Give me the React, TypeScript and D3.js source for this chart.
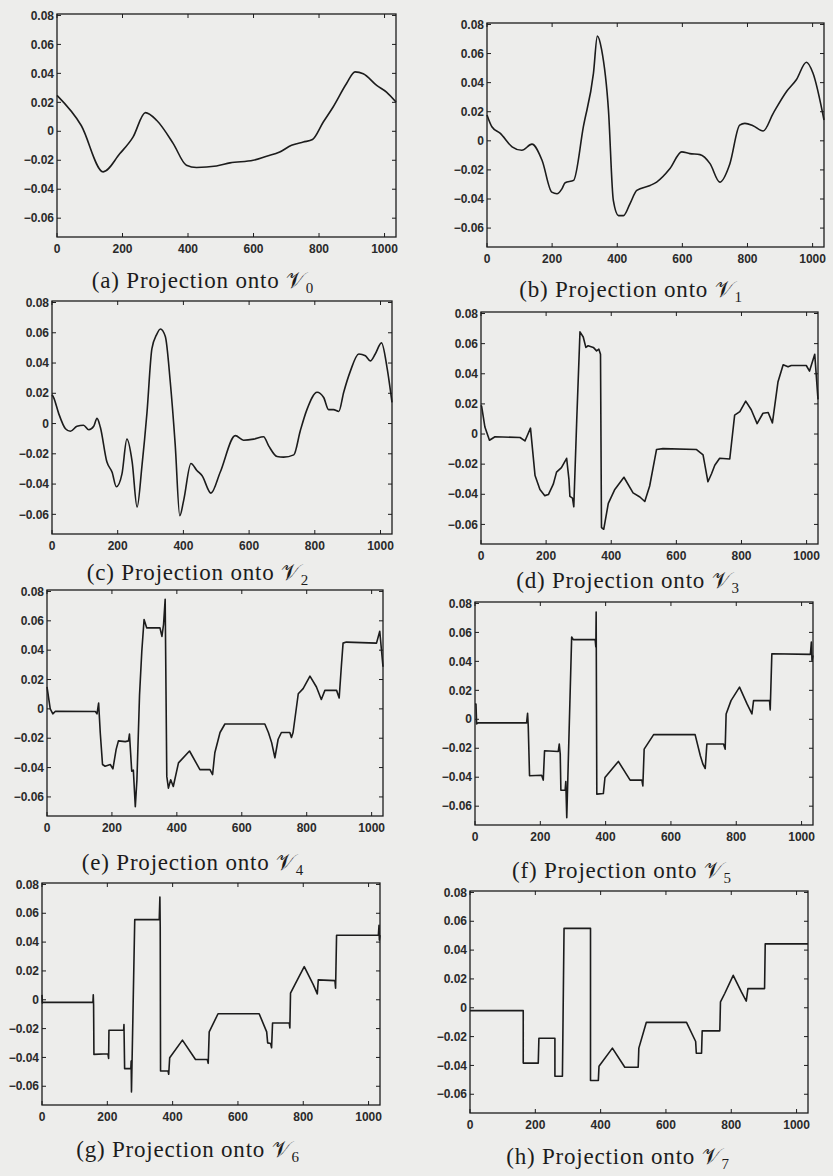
import React from 'react';
import * as d3 from 'd3';

type Pt = [number, number];

// axis ticks shared by every panel
const xTicks = [0, 200, 400, 600, 800, 1000];
const yTicks = [-0.06, -0.04, -0.02, 0, 0.02, 0.04, 0.06, 0.08];
const xDomain: [number, number] = [0, 1035];
const yDomain: [number, number] = [-0.073, 0.081];

// projections of the skyline signal onto V0 ... V7 (sample index, value)
const projV0: Pt[] = [
  [0, 0.0248], [74, 0.004], [141, -0.028], [192, -0.0154], [232, -0.004], [270, 0.0129],
  [304, 0.0076], [355, -0.0085], [395, -0.0234], [426, -0.025], [487, -0.024], [528, -0.0218],
  [599, -0.02], [640, -0.0172], [680, -0.0143], [716, -0.0097], [752, -0.0074], [780, -0.0057],
  [813, 0.0064], [843, 0.0168], [884, 0.033], [910, 0.041], [935, 0.0398], [976, 0.0317],
  [1006, 0.0271], [1035, 0.0202],
];

const projV1: Pt[] = [
  [0, 0.0178], [15, 0.0097], [41, 0.0051], [77, -0.0041], [107, -0.0065], [138, -0.0023],
  [169, -0.0134], [199, -0.0353], [215, -0.0364], [230, -0.033], [240, -0.0288], [266, -0.0272],
  [296, 0.0097], [327, 0.0466], [339, 0.072], [352, 0.0627], [373, 0.0212], [388, -0.041],
  [404, -0.0514], [419, -0.0514], [439, -0.0433], [460, -0.0341], [501, -0.0307], [521, -0.0284],
  [562, -0.0191], [598, -0.0076], [623, -0.0088], [654, -0.0095], [685, -0.0157], [715, -0.0284],
  [746, -0.0157], [776, 0.0108], [792, 0.012], [817, 0.0104], [848, 0.0067], [879, 0.0189],
  [920, 0.0339], [950, 0.042], [981, 0.054], [1001, 0.0466], [1035, 0.0143],
];

const projV2: Pt[] = [
  [0, 0.019], [5, 0.0172], [20, 0.0069], [41, -0.0034], [56, -0.0051], [76, -0.0018],
  [96, -0.0011], [112, -0.0041], [127, -0.0018], [137, 0.0034], [147, -0.0023], [167, -0.0253],
  [183, -0.0322], [196, -0.0418], [213, -0.0333], [228, -0.0103], [244, -0.0253], [259, -0.0552],
  [274, -0.0276], [289, 0.0069], [304, 0.0494], [318, 0.0586], [330, 0.0625], [345, 0.0575],
  [360, 0.0276], [375, -0.0138], [389, -0.0609], [401, -0.0506], [423, -0.0264], [441, -0.031],
  [457, -0.0345], [484, -0.046], [512, -0.0322], [558, -0.008], [583, -0.011], [614, -0.0103],
  [644, -0.0087], [660, -0.0149], [685, -0.0218], [705, -0.0222], [736, -0.0207], [756, -0.0046],
  [776, 0.0092], [807, 0.0207], [827, 0.0172], [842, 0.0092], [857, 0.0092], [873, 0.008],
  [888, 0.0207], [908, 0.0345], [934, 0.046], [954, 0.0448], [969, 0.0414], [984, 0.046],
  [1003, 0.0533], [1020, 0.0368], [1035, 0.014],
];

const projV3: Pt[] = [
  [0, 0.019], [2, 0.0184], [12, 0.0046], [26, -0.0041], [43, -0.0018], [120, -0.0023],
  [135, -0.0046], [152, 0.0039], [166, -0.0276], [181, -0.0368], [196, -0.0409], [207, -0.0402],
  [222, -0.0333], [232, -0.0253], [247, -0.0223], [263, -0.0161], [270, -0.0299], [273, -0.0414],
  [281, -0.0425], [285, -0.0483], [294, 0.0092], [304, 0.0678], [314, 0.0644], [322, 0.0575],
  [329, 0.0586], [345, 0.0575], [355, 0.0552], [362, 0.0563], [367, 0.0529], [370, -0.0621],
  [377, -0.0632], [391, -0.046], [411, -0.0368], [439, -0.0287], [467, -0.0391], [488, -0.0418],
  [503, -0.0448], [518, -0.0345], [539, -0.0103], [559, -0.0097], [662, -0.0103], [682, -0.0138],
  [697, -0.0317], [708, -0.0264], [718, -0.0207], [733, -0.0161], [764, -0.0166], [779, 0.0126],
  [795, 0.0149], [813, 0.0218], [830, 0.0161], [848, 0.0069], [866, 0.0138], [882, 0.0143],
  [895, 0.0074], [912, 0.0345], [928, 0.046], [943, 0.0446], [953, 0.0455], [999, 0.0455],
  [1009, 0.0418], [1025, 0.0529], [1035, 0.023],
];

const projV4: Pt[] = [
  [0, 0.015], [10, 0], [18, -0.0034], [26, -0.0016], [149, -0.0018], [154, -0.0034],
  [159, 0.0039], [164, -0.0161], [171, -0.0379], [179, -0.0391], [195, -0.0379], [203, -0.0409],
  [213, -0.0276], [220, -0.0218], [241, -0.0223], [251, -0.0218], [254, -0.0172], [261, -0.0425],
  [266, -0.0418], [272, -0.0667], [277, -0.0483], [285, 0.0092], [292, 0.0391], [299, 0.0609],
  [307, 0.0552], [348, 0.0552], [354, 0.0494], [359, 0.0575], [364, 0.0747], [369, -0.046],
  [374, -0.054], [381, -0.0483], [389, -0.0529], [405, -0.0368], [439, -0.0287], [471, -0.0414],
  [502, -0.0414], [510, -0.0448], [517, -0.0299], [533, -0.0161], [548, -0.0103], [671, -0.0103],
  [682, -0.0161], [692, -0.023], [702, -0.0333], [712, -0.0207], [722, -0.0161], [748, -0.0161],
  [753, -0.0195], [758, -0.0161], [774, 0.0103], [789, 0.0138], [810, 0.0223], [830, 0.0149],
  [845, 0.0064], [856, 0.0126], [892, 0.0126], [900, 0.0074], [907, 0.0299], [912, 0.0448],
  [922, 0.0455], [1015, 0.0448], [1025, 0.0529], [1035, 0.0287],
];

const projV5: Pt[] = [
  [0, 0.0106], [3, 0.0106], [5, -0.0032], [10, -0.0025], [158, -0.0025], [161, 0.0042],
  [163, -0.0044], [167, -0.039], [204, -0.0386], [209, -0.042], [213, -0.0217], [255, -0.0222],
  [258, -0.0171], [261, -0.024], [263, -0.049], [276, -0.049], [278, -0.043], [281, -0.0679],
  [296, 0.0568], [301, 0.055], [368, 0.055], [370, 0.0499], [371, 0.0741], [373, -0.0517],
  [393, -0.0513], [398, -0.0402], [439, -0.0291], [475, -0.042], [511, -0.042], [514, -0.046],
  [518, -0.0206], [547, -0.0106], [674, -0.0106], [690, -0.0252], [698, -0.031], [705, -0.034],
  [710, -0.0171], [761, -0.0171], [766, -0.0206], [769, 0.0037], [784, 0.0129], [810, 0.0222],
  [833, 0.0106], [848, 0.0037], [853, 0.0129], [902, 0.0129], [904, 0.0065], [909, 0.0453],
  [1027, 0.0448], [1030, 0.0533], [1032, 0.0406], [1035, 0.0441],
];

const projV6: Pt[] = [
  [0, 0.0034], [1, -0.0023], [3, -0.0018], [156, -0.0018], [157, 0.0034], [158, -0.0034],
  [159, -0.0379], [202, -0.0375], [204, -0.0407], [205, -0.0211], [250, -0.0211], [251, -0.0172],
  [253, -0.0478], [272, -0.0478], [273, -0.0425], [274, -0.0639], [284, 0.0556], [359, 0.0556],
  [361, 0.0713], [362, 0.0506], [363, -0.0494], [386, -0.0494], [388, -0.0517], [391, -0.0402],
  [430, -0.028], [470, -0.0414], [506, -0.0414], [509, -0.0441], [512, -0.0223], [539, -0.0097],
  [665, -0.0097], [688, -0.0223], [691, -0.0299], [700, -0.0303], [703, -0.0333], [706, -0.0161],
  [757, -0.0161], [759, -0.0195], [761, 0.0046], [774, 0.0103], [803, 0.023], [831, 0.0103],
  [843, 0.0041], [846, 0.0138], [897, 0.0133], [899, 0.008], [902, 0.0448], [1030, 0.0448],
  [1032, 0.0517], [1033, 0.0414], [1035, 0.0448],
];

const projV7: Pt[] = [
  [0, -0.002], [163, -0.002], [163, -0.0384], [209, -0.0384], [211, -0.0211], [260, -0.0211],
  [260, -0.0475], [283, -0.0475], [288, 0.0551], [369, 0.0551], [369, -0.0505], [393, -0.0505],
  [395, -0.0406], [436, -0.028], [474, -0.0413], [515, -0.0413], [517, -0.028], [540, -0.0101],
  [663, -0.0101], [691, -0.0234], [693, -0.0315], [709, -0.0315], [711, -0.016], [765, -0.016],
  [767, 0.0041], [780, 0.0099], [806, 0.0225], [831, 0.011], [846, 0.0046], [851, 0.0133],
  [902, 0.0133], [904, 0.0443], [1035, 0.0443],
];

const panelTags = ['a', 'b', 'c', 'd', 'e', 'f', 'g', 'h'];
const panelSeries = [projV0, projV1, projV2, projV3, projV4, projV5, projV6, projV7];

// where each axes box sits on the scanned page: left, top, right, bottom
const frames = [
  [57, 14, 396, 237],
  [487, 23, 824, 247],
  [52, 301, 392, 534],
  [481, 312, 818, 544],
  [47, 590, 383, 816],
  [475, 602, 813, 825],
  [42, 883, 380, 1105],
  [470, 891, 808, 1113],
];
// caption centre x and baseline y
const captions = [
  [203, 288], [631, 297], [198, 580], [628, 588],
  [193, 870], [622, 878], [188, 1157], [618, 1164],
];

const INK = '#1c1c1c';
const TICK = 4;

const fmtY = (v: number) => (v === 0 ? '0' : (v < 0 ? '\u2212' : '') + Math.abs(v).toFixed(2));

const Panel: React.FC<{ idx: number }> = ({ idx }) => {
  const [l, t, r, b] = frames[idx];
  const [cx, cy] = captions[idx];
  const data = panelSeries[idx];
  const x = d3.scaleLinear().domain(xDomain).range([l, r]);
  const y = d3.scaleLinear().domain(yDomain).range([b, t]);
  const line = d3.line<Pt>()
    .x(d => x(d[0]))
    .y(d => y(d[1]))
    .curve(idx < 3 ? d3.curveMonotoneX : d3.curveLinear);

  return (
    <g>
      <rect x={l} y={t} width={r - l} height={b - t} fill="none" stroke={INK} strokeWidth={1.3} />
      {xTicks.map(v => (
        <g key={'x' + v}>
          <line x1={x(v)} x2={x(v)} y1={b} y2={b - TICK} stroke={INK} strokeWidth={1} />
          <line x1={x(v)} x2={x(v)} y1={t} y2={t + TICK} stroke={INK} strokeWidth={1} />
          <text x={x(v)} y={b + 16} textAnchor="middle" fontSize={12} fontWeight="bold"
            fontFamily="Liberation Sans, Arial, sans-serif" fill="#2a2a2a">{v}</text>
        </g>
      ))}
      {yTicks.map(v => (
        <g key={'y' + v}>
          <line x1={l} x2={l + TICK} y1={y(v)} y2={y(v)} stroke={INK} strokeWidth={1} />
          <line x1={r} x2={r - TICK} y1={y(v)} y2={y(v)} stroke={INK} strokeWidth={1} />
          <text x={l - 3} y={y(v)} dy="0.35em" textAnchor="end" fontSize={12} fontWeight="bold"
            fontFamily="Liberation Sans, Arial, sans-serif" fill="#2a2a2a">{fmtY(v)}</text>
        </g>
      ))}
      <path d={line(data) || ''} fill="none" stroke={INK} strokeWidth={1.6} strokeLinejoin="round" />
      <text x={cx} y={cy} textAnchor="middle" fontSize={23} letterSpacing={0.8}
        fontFamily="Liberation Serif, Times New Roman, serif" fill={INK}>
        ({panelTags[idx]}) Projection onto{' '}
        <tspan fontFamily="DejaVu Serif, DejaVu Sans, serif">{'\u{1D4B1}'}</tspan>
        <tspan dy={5} fontSize={15}>{idx}</tspan>
      </text>
    </g>
  );
};

const App: React.FC = () => (
  <svg width={833} height={1176} style={{ position: 'absolute', left: 0, top: 0, display: 'block' }}>
    <rect width={833} height={1176} fill="#ededeb" />
    {panelTags.map((_, i) => <Panel key={i} idx={i} />)}
  </svg>
);

export default App;
